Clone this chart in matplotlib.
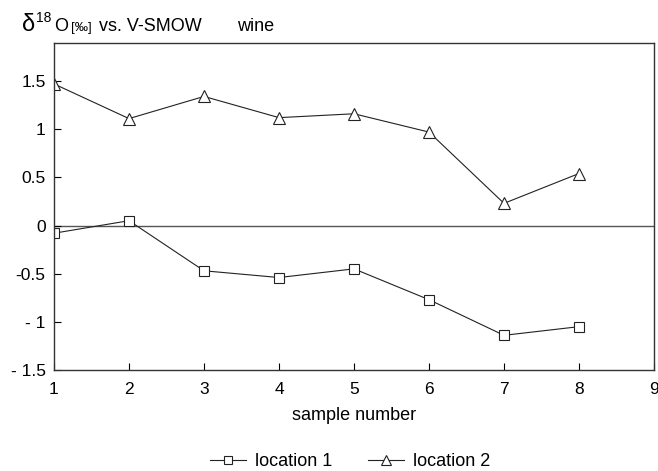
import numpy as np
from matplotlib import pyplot as plt

plt.rcParams['font.family'] = ['Liberation Sans', 'DejaVu Sans']

# data
samples = [1, 2, 3, 4, 5, 6, 7, 8]
location1 = [-0.08, 0.05, -0.47, -0.54, -0.45, -0.77, -1.14, -1.05]
location2 = [1.47, 1.11, 1.34, 1.12, 1.16, 0.97, 0.23, 0.54]
yticks = [-1.5, -1, -0.5, 0, 0.5, 1, 1.5]
ytick_labels = ['- 1.5', '- 1', '-0.5', '0', '0.5', '1', '1.5']
xticks = [1, 2, 3, 4, 5, 6, 7, 8, 9]

fig = plt.figure(figsize=(6.58, 4.71), dpi=100)
ax = fig.add_axes([54/658, 101/471, 600/658, 327.5/471])

ax.axhline(0, color='#555555', lw=1.0, zorder=1)
ax.plot(samples, location1, color='#222222', lw=0.8, marker='s', ms=6.5,
        mfc='white', mec='#222222', mew=0.8, label='location 1')
ax.plot(samples, location2, color='#222222', lw=0.8, marker='^', ms=9,
        mfc='white', mec='#222222', mew=0.8, label='location 2')

ax.set_xlim(1, 9)
ax.set_ylim(-1.5, 1.9)
ax.set_xticks(xticks)
ax.set_yticks(yticks)
ax.set_yticklabels(ytick_labels)
ax.tick_params(direction='in', length=5, width=0.8, labelsize=12.5, pad=6)
ax.tick_params(axis='x', pad=9)
for s in ax.spines.values():
    s.set_linewidth(1.0)
    s.set_color('#333333')

ax.set_xlabel('sample number', fontsize=13, labelpad=7)

# title pieces: delta, superscript, text
base = 1 - 31/471
fig.text(22/658, base, 'δ', fontsize=17, va='baseline', ha='left')
fig.text(36/658, base + 9/471, '18', fontsize=10, va='baseline', ha='left')
fig.text(54/658, base, 'O', fontsize=13, va='baseline', ha='left')
fig.text(71/658, base, '[‰]', fontsize=9.5, va='baseline', ha='left')
fig.text(99/658, base, 'vs. V-SMOW', fontsize=13, va='baseline', ha='left')
fig.text(237/658, base, 'wine', fontsize=13, va='baseline', ha='left')

fig.legend(loc='center', bbox_to_anchor=(350/658, 9/471), ncol=2, frameon=False,
           fontsize=13, handlelength=2.0, columnspacing=2.0, handletextpad=0.5,
           markerscale=0.85)

fig.savefig('out.png', dpi=100)
